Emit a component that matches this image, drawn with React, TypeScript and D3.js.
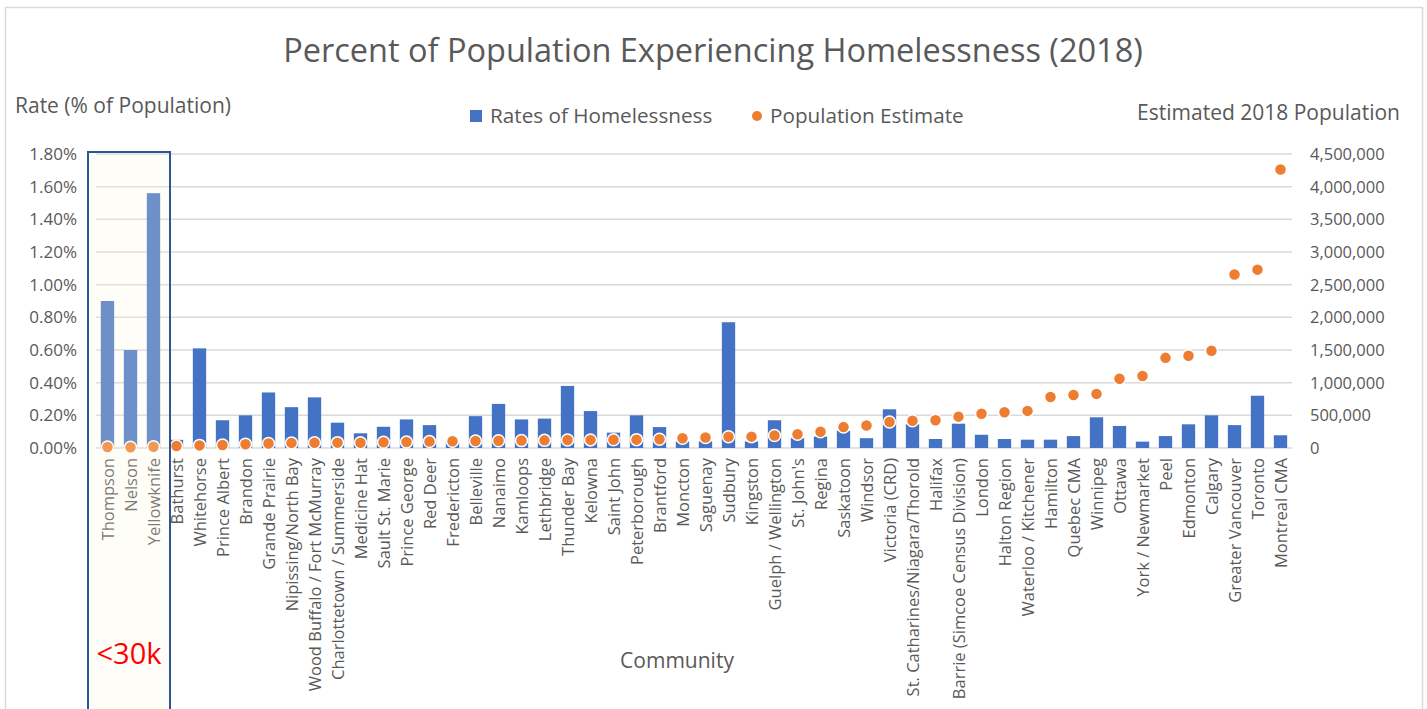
import React from "react";
import * as d3 from "d3";

const categories = [
  "Thompson", "Nelson", "Yellowknife", "Bathurst", "Whitehorse", "Prince Albert", "Brandon",
  "Grande Prairie", "Nipissing/North Bay", "Wood Buffalo / Fort McMurray", "Charlottetown / Summerside",
  "Medicine Hat", "Sault St. Marie", "Prince George", "Red Deer", "Fredericton", "Belleville", "Nanaimo",
  "Kamloops", "Lethbridge", "Thunder Bay", "Kelowna", "Saint John", "Peterborough", "Brantford", "Moncton",
  "Saguenay", "Sudbury", "Kingston", "Guelph / Wellington", "St. John's", "Regina", "Saskatoon", "Windsor",
  "Victoria (CRD)", "St. Catharines/Niagara/Thorold", "Halifax", "Barrie (Simcoe Census Division)", "London",
  "Halton Region", "Waterloo / Kitchener", "Hamilton", "Quebec CMA", "Winnipeg", "Ottawa", "York / Newmarket",
  "Peel", "Edmonton", "Calgary", "Greater Vancouver", "Toronto", "Montreal CMA",
];

// Rate of homelessness, % of population
const rates = [
  0.90, 0.60, 1.56, 0.05, 0.61, 0.17, 0.20, 0.34, 0.25, 0.31,
  0.155, 0.09, 0.13, 0.175, 0.14, 0.04, 0.195, 0.27, 0.175, 0.18,
  0.38, 0.226, 0.094, 0.20, 0.128, 0.04, 0.04, 0.77, 0.04, 0.17,
  0.06, 0.07, 0.106, 0.06, 0.237, 0.145, 0.055, 0.149, 0.081, 0.055,
  0.051, 0.051, 0.073, 0.188, 0.135, 0.039, 0.073, 0.145, 0.20, 0.14,
  0.32, 0.078,
];

// Estimated 2018 population
const population = [
  14000, 11000, 20000, 30000, 40000, 45000, 58000, 70000, 78000, 80000,
  82000, 80000, 87000, 92000, 98000, 103000, 108000, 112000, 113000, 117000,
  122000, 124000, 126000, 128000, 134000, 148000, 160000, 172000, 174000, 190000,
  210000, 250000, 320000, 345000, 398000, 418000, 425000, 480000, 525000, 548000,
  568000, 780000, 810000, 828000, 1060000, 1102000, 1380000, 1413000, 1488000, 2655000,
  2730000, 4262000,
];

const leftTicks = [0, 0.2, 0.4, 0.6, 0.8, 1.0, 1.2, 1.4, 1.6, 1.8];
const rightTicks = [0, 500000, 1000000, 1500000, 2000000, 2500000, 3000000, 3500000, 4000000, 4500000];
const highlighted = ["Thompson", "Nelson", "Yellowknife"];

const W = 1427;
const H = 709;
const FONT = "'Open Sans', sans-serif";
const TXT = "#595959";
const BLUE = "#4472C4";
const ORANGE = "#ED7D31";

export default function App() {
  const plotL = 96, plotR = 1292, plotT = 154, plotB = 448;
  const x = d3.scaleBand<string>().domain(categories).range([plotL, plotR]).paddingInner(0.42).paddingOuter(0.21);
  const yL = d3.scaleLinear().domain([0, 1.8]).range([plotB, plotT]);
  const yR = d3.scaleLinear().domain([0, 4500000]).range([plotB, plotT]);
  const fmtR = d3.format(",");

  const hx0 = (x(highlighted[0]) as number) - x.step() * 0.21 - 8;
  const hx1 = (x(highlighted[highlighted.length - 1]) as number) + x.bandwidth() + x.step() * 0.21 + 5;

  return (
    <svg width={W} height={H} style={{ position: "absolute", left: 0, top: 0, background: "#fff" }} fontFamily={FONT}>
      <rect x={5.5} y={7.5} width={1417} height={H + 20} fill="#fff" stroke="#D9D9D9" strokeWidth={1.5} />
      <text x={713} y={62} textAnchor="middle" fontSize={32.5} fill={TXT}>
        Percent of Population Experiencing Homelessness (2018)
      </text>
      <text x={15} y={113} fontSize={21} fill={TXT}>Rate (% of Population)</text>
      <text x={1400} y={120} textAnchor="end" fontSize={21} fill={TXT}>Estimated 2018 Population</text>

      {/* legend */}
      <rect x={470} y={110} width={12} height={12} fill={BLUE} />
      <text x={490} y={123} fontSize={20.7} fill={TXT}>Rates of Homelessness</text>
      <circle cx={757} cy={116} r={5} fill={ORANGE} />
      <text x={770} y={123} fontSize={20.7} fill={TXT}>Population Estimate</text>

      {/* gridlines */}
      {leftTicks.map((t) => (
        <line key={t} x1={plotL} x2={plotR} y1={yL(t)} y2={yL(t)} stroke="#D9D9D9" strokeWidth={1.5} />
      ))}
      {leftTicks.map((t) => (
        <text key={"l" + t} x={77} y={yL(t) + 6} textAnchor="end" fontSize={17} fill={TXT}>
          {t.toFixed(2) + "%"}
        </text>
      ))}
      {rightTicks.map((t) => (
        <text key={"r" + t} x={1310} y={yR(t) + 6} fontSize={16.5} fill={TXT}>
          {fmtR(t)}
        </text>
      ))}

      {/* bars */}
      {categories.map((c, i) => (
        <rect key={"b" + c} x={x(c)} y={yL(rates[i])} width={x.bandwidth()} height={plotB - yL(rates[i])} fill={BLUE} />
      ))}
      {/* points */}
      {categories.map((c, i) => (
        <circle key={"p" + c} cx={(x(c) as number) + x.bandwidth() / 2} cy={yR(population[i])} r={6}
          fill={ORANGE} stroke="#fff" strokeWidth={1.5} />
      ))}

      {/* category labels */}
      {categories.map((c) => {
        const cx = (x(c) as number) + x.bandwidth() / 2;
        return (
          <text key={"c" + c} transform={`translate(${cx + 6},458) rotate(-90)`} textAnchor="end" fontSize={16.5} fill={TXT}>
            {c}
          </text>
        );
      })}
      <text x={677} y={668} textAnchor="middle" fontSize={21} fill={TXT}>Community</text>

      {/* highlight box */}
      <rect x={hx0} y={152} width={hx1 - hx0} height={600} fill="#FFF6E0" fillOpacity={0.22} />
      <rect x={hx0} y={152} width={hx1 - hx0} height={600} fill="none" stroke="#2F5597" strokeWidth={2} />
      <text x={(hx0 + hx1) / 2} y={664} textAnchor="middle" fontSize={29} fill="#FF0000">&lt;30k</text>
    </svg>
  );
}
